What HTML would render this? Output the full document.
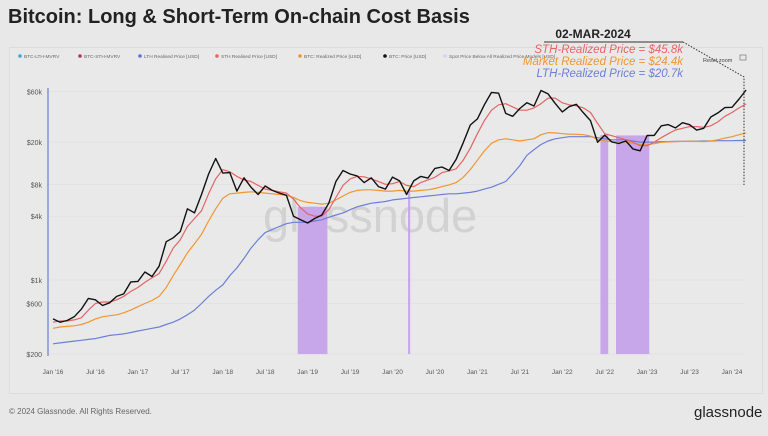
<!DOCTYPE html>
<html><head><meta charset="utf-8">
<style>
body{margin:0;width:768px;height:436px;background:#e8e8e8;font-family:"Liberation Sans",sans-serif;overflow:hidden;position:relative}
.t{position:absolute}
</style></head><body>
<div class="t" style="left:8px;top:6px;font-size:20px;font-weight:bold;color:#222">Bitcoin: Long &amp; Short-Term On-chain Cost Basis</div>
<div class="t" style="left:9px;top:47px;width:752px;height:345px;border:1px solid #dcdcdc;background:#e9e9e9"></div>
<div class="t" style="left:9px;top:407px;font-size:8px;color:#666">© 2024 Glassnode. All Rights Reserved.</div>
<div class="t" style="left:694px;top:404px;font-size:15px;color:#222">glassnode</div>
<svg id="c" width="768" height="436" style="position:absolute;left:0;top:0"></svg>
<script>
const yTicks=[200,600,1000,4000,8000,20000,60000];
const yTickLabels=["$200","$600","$1k","$4k","$8k","$20k","$60k"];
const xTickLabels=["Jan '16","Jul '16","Jan '17","Jul '17","Jan '18","Jul '18","Jan '19","Jul '19","Jan '20","Jul '20","Jan '21","Jul '21","Jan '22","Jul '22","Jan '23","Jul '23","Jan '24"];
const price=[430,400,415,450,530,670,650,575,610,700,740,960,970,1190,1080,1350,2300,2500,2870,4700,4300,6400,10000,14000,10200,10300,6900,9200,7500,6400,7700,7000,6600,6300,4000,3700,3450,3800,4100,5300,8500,10800,10000,9600,8300,9200,7600,7200,9350,8600,6400,8600,9500,9150,11300,11650,10800,13800,19700,29000,33100,45100,58800,57800,37300,35000,41500,47100,43800,61300,57000,46300,38500,43200,45500,37700,31800,19900,23300,20050,19400,20500,17200,16550,23100,23150,28500,29250,27200,30500,29200,25950,26960,34500,37700,42300,42600,51000,62000];
const sth=[400,410,410,420,440,520,600,620,620,650,700,780,850,950,1050,1150,1500,2000,2400,3200,3800,4500,6500,9000,11000,10500,9500,8800,8500,7800,7200,7000,6800,6600,5800,4800,4200,4000,4000,4600,6000,7800,9000,9500,9400,9000,8500,8000,8100,8500,7800,7600,8300,8800,9300,10300,10700,11200,13500,17500,24000,32000,40000,45000,46000,43000,40000,40000,42000,46000,52000,52000,47000,45000,44000,42000,38000,30000,24000,23000,22000,21000,20000,18500,18500,20000,22000,24000,26000,27000,28000,28000,27500,28500,31000,35000,38000,42000,45800];
const market=[350,360,365,370,380,400,430,450,460,470,490,520,560,600,640,700,850,1100,1400,1800,2200,2700,3600,4700,5900,6500,6600,6700,6800,6700,6600,6500,6400,6300,6000,5600,5400,5300,5200,5300,5700,6200,6700,7000,7100,7100,7000,6900,6900,7000,6900,6900,7000,7100,7300,7600,7900,8300,9300,11000,13500,16500,19500,21000,21500,21000,20500,21000,21500,23500,24500,24400,24000,23800,23700,23500,22800,21200,20500,20300,20200,20100,19500,18900,18900,19300,19900,20100,20200,20300,20400,20300,20200,20500,21000,21800,22500,23500,24400];
const lth=[250,255,260,265,270,275,280,290,300,305,310,320,330,340,350,360,380,400,430,470,520,600,700,800,900,1100,1300,1600,2000,2400,2800,3000,3200,3400,3500,3500,3500,3600,3700,3900,4100,4300,4600,4900,5100,5300,5400,5500,5700,5800,5900,6000,6100,6200,6300,6400,6500,6500,6600,6700,6900,7200,7500,8000,8500,10000,12000,15000,17000,19000,20500,21500,22000,22500,22500,22500,22500,22000,21500,21000,21000,21000,20500,20000,20000,20000,20200,20200,20300,20300,20400,20400,20500,20500,20600,20600,20600,20700,20700];
const shadeStart=[34.6,50.2,77.4,79.6];
const shadeEnd=[38.8,50.5,78.5,84.3];
const svg=document.getElementById('c');const NS='http://www.w3.org/2000/svg';
function el(t,a,p){const e=document.createElementNS(NS,t);for(const k in a)e.setAttribute(k,a[k]);(p||svg).appendChild(e);return e;}
const X=m=>53+m*(679/96);
const Y=v=>280-Math.log10(v/1000)*106;
function priceAt(m){const i=Math.floor(m),f=m-i;const a=price[i],b=price[Math.min(i+1,price.length-1)];return Math.exp(Math.log(a)*(1-f)+Math.log(b)*f);}
yTicks.forEach((v,i)=>{
 const g=el('line',{x1:48,x2:745,y1:Y(v),y2:Y(v),stroke:'#dedede','stroke-width':0.6});
 
 const t=el('text',{x:42,y:Y(v)+3,'text-anchor':'end','font-size':7,fill:'#555'});t.textContent=yTickLabels[i];
 
});
xTickLabels.forEach((s,i)=>{
 const t=el('text',{x:X(i*6),y:374,'text-anchor':'middle','font-size':6.5,fill:'#555'});t.textContent=s;
 
});
const wm=el('text',{x:263,y:232,'font-size':47,fill:'#d2d2d2'});wm.textContent='glassnode';

shadeStart.forEach((s,i)=>{
 let top=1e9;for(let m=s;m<=shadeEnd[i];m+=0.1)top=Math.min(top,Y(priceAt(m)));
 const r=el('rect',{x:X(s),y:top,width:Math.max(1.5,X(shadeEnd[i])-X(s)),height:Y(200)-top,fill:'#c7a6ea'});
 
});
el('line',{x1:48,x2:48,y1:88,y2:356,stroke:'#6a7fd6','stroke-width':1.2});
function line(arr,col,w,name){
 const p=el('path',{d:arr.map((v,i)=>(i?'L':'M')+X(i).toFixed(1)+','+Y(v).toFixed(1)).join(''),fill:'none',stroke:col,'stroke-width':w,'stroke-linejoin':'round'});
 
}
line(lth,'#6b7fd8',1.2,'lth-realized-line');
line(market,'#f0962e',1.2,'market-realized-line');
line(sth,'#e56363',1.2,'sth-realized-line');
line(price,'#111',1.4,'btc-price-line');
const leg=[['BTC-LTH-MVRV','#3aa8d8'],['BTC-STH-MVRV','#b2336a'],['LTH Realised Price [USD]','#5a73d8'],['STH Realised Price [USD]','#e56363'],['BTC: Realized Price [USD]','#f0962e'],['BTC: Price [USD]','#111'],['Spot Price Below All Realized Price Models [USD]','#d9d0ec']];
const lx=[20,80,140,217,300,385,445];
leg.forEach((l,i)=>{
 el('circle',{cx:lx[i],cy:56,r:1.8,fill:l[1]});
 const t=el('text',{x:lx[i]+4,y:58,'font-size':4.8,fill:'#666'});t.textContent=l[0];
 
});
const rz=el('text',{x:703,y:62,'font-size':5.5,fill:'#444'});rz.textContent='Reset zoom';

el('rect',{x:740,y:55,width:6,height:5,fill:'none',stroke:'#777','stroke-width':0.7});
const d=el('text',{x:593,y:38,'text-anchor':'middle','font-size':12,'font-weight':'bold',fill:'#222'});d.textContent='02-MAR-2024';

el('line',{x1:544,x2:683,y1:42,y2:42,stroke:'#333','stroke-width':1});
el('path',{d:'M683,42 L744,77 L744,185',fill:'none',stroke:'#333','stroke-width':1,'stroke-dasharray':'1.5,1.5'});
[['STH-Realized Price = $45.8k','#e56363',53],['Market Realized Price = $24.4k','#f0962e',65],['LTH-Realized Price = $20.7k','#6b7fd8',77]].forEach(a=>{
 const t=el('text',{x:683,y:a[2],'text-anchor':'end','font-size':11.5,'font-style':'italic',fill:a[1]});t.textContent=a[0];
 
});
</script>
</body></html>
